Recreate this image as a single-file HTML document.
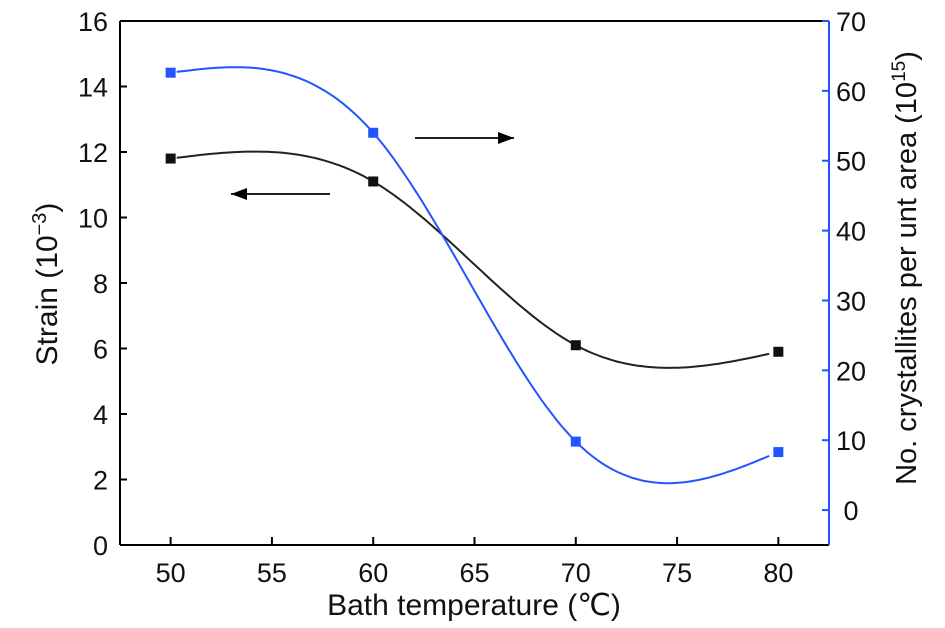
<!DOCTYPE html>
<html><head><meta charset="utf-8"><style>
body{margin:0;background:#fff}
svg{display:block;font-family:"Liberation Sans",sans-serif}
</style></head><body>
<svg id="chart" width="945" height="628"></svg>
<script>
const temps=[50,60,70,80];
const strain=[11.8,11.1,6.1,5.9];
const crystallites=[62.6,54,9.8,8.3];
const xTicks=[50,55,60,65,70,75,80];
const yLeftTicks=[0,2,4,6,8,10,12,14,16];
const yRightTicks=[0,10,20,30,40,50,60,70];

const L=120,R=829,T=21,B=545;
const X=v=>L+(v-47.5)/35*(R-L);
const YL=v=>B-v/16*(B-T);
const YR=v=>B-(v+5)/75*(B-T);
const BLUE='#2255ff';
const NS="http://www.w3.org/2000/svg";
const svg=document.getElementById('chart');
function mk(tag,attrs,parent){const e=document.createElementNS(NS,tag);for(const k in attrs)e.setAttribute(k,attrs[k]);(parent||svg).appendChild(e);return e;}

function spline(xs,ys){const n=xs.length,h=[],a=[],l=[1],mu=[0],z=[0],c=new Array(n).fill(0),b=[],d=[];
for(let i=0;i<n-1;i++)h[i]=xs[i+1]-xs[i];
for(let i=1;i<n-1;i++)a[i]=3/h[i]*(ys[i+1]-ys[i])-3/h[i-1]*(ys[i]-ys[i-1]);
for(let i=1;i<n-1;i++){l[i]=2*(xs[i+1]-xs[i-1])-h[i-1]*mu[i-1];mu[i]=h[i]/l[i];z[i]=(a[i]-h[i-1]*z[i-1])/l[i];}
for(let j=n-2;j>=0;j--){c[j]=(j>0?z[j]:0)-mu[j]*c[j+1];b[j]=(ys[j+1]-ys[j])/h[j]-h[j]*(c[j+1]+2*c[j])/3;d[j]=(c[j+1]-c[j])/(3*h[j]);}
return x=>{let i=xs.findIndex((v,k)=>k<n-1&&x<=xs[k+1]);if(i<0)i=n-2;const dx=x-xs[i];return ys[i]+b[i]*dx+c[i]*dx*dx+d[i]*dx*dx*dx;};}

function curve(ys,Y,color,name){const f=spline(temps,ys);let p='';
for(let x=temps[0]+0.3;x<=temps[temps.length-1]-0.3+1e-9;x+=0.25){p+=(p?'L':'M')+X(x).toFixed(1)+','+Y(f(x)).toFixed(1);}
const e=mk('path',{d:p,fill:'none',stroke:color,'stroke-width':2});

}
curve(strain,YL,'#222','strain-line');
curve(crystallites,YR,BLUE,'crystallites-line');

strain.forEach((v,i)=>{const r=mk('rect',{x:X(temps[i])-5,y:YL(v)-5,width:10,height:10,fill:'#111'});

});
crystallites.forEach((v,i)=>{const r=mk('rect',{x:X(temps[i])-5,y:YR(v)-5,width:10,height:10,fill:BLUE});

});

// axes
let ax=mk('line',{x1:L,y1:T,x2:R,y2:T,stroke:'#000','stroke-width':2});

ax=mk('line',{x1:L,y1:T,x2:L,y2:B,stroke:'#000','stroke-width':2});

ax=mk('line',{x1:L,y1:B,x2:R,y2:B,stroke:'#000','stroke-width':2});

ax=mk('line',{x1:R,y1:T,x2:R,y2:B,stroke:BLUE,'stroke-width':2});


yLeftTicks.forEach(v=>{const y=YL(v);mk('line',{x1:L,y1:y,x2:L+7,y2:y,stroke:'#000','stroke-width':2});
const t=mk('text',{x:L-12,y:y+10,'text-anchor':'end','font-size':27,fill:'#111'});t.textContent=v;
});
yRightTicks.forEach(v=>{const y=YR(v);mk('line',{x1:R,y1:y,x2:R-7,y2:y,stroke:BLUE,'stroke-width':2});
const t=mk('text',{x:R+22,y:y+10,'text-anchor':'middle','font-size':27,fill:'#111'});t.textContent=v;
});
xTicks.forEach(v=>{const x=X(v);mk('line',{x1:x,y1:B,x2:x,y2:B-8,stroke:'#000','stroke-width':2});
const t=mk('text',{x:x,y:B+37,'text-anchor':'middle','font-size':27,fill:'#111'});t.textContent=v;
});

// arrows
function arrow(x1,x2,y,name){const e=mk('g',{});
mk('line',{x1:x1,y1:y,x2:x2,y2:y,stroke:'#000','stroke-width':1.8},e);
const s=x2>x1?-1:1;mk('path',{d:`M${x2},${y}L${x2+s*16},${y-6}L${x2+s*16},${y+6}Z`,fill:'#000'},e);}
arrow(330,231,194,'left-axis-arrow');
arrow(415,514,138,'right-axis-arrow');

let t=mk('text',{x:474,y:615,'text-anchor':'middle','font-size':30,fill:'#111'});
t.innerHTML='Bath temperature (℃)';
t=mk('text',{x:0,y:0,'text-anchor':'middle','font-size':30,fill:'#111',transform:'translate(57,284) rotate(-90)'});
t.innerHTML='Strain (10<tspan dy="-11" font-size="20">−3</tspan><tspan dy="11">)</tspan>';

t=mk('text',{x:0,y:0,'text-anchor':'middle','font-size':29,fill:'#111',transform:'translate(916,268) rotate(-90)'});
t.innerHTML='No. crystallites per unt area (10<tspan dy="-11" font-size="19">15</tspan><tspan dy="11">)</tspan>';

</script>
</body></html>
